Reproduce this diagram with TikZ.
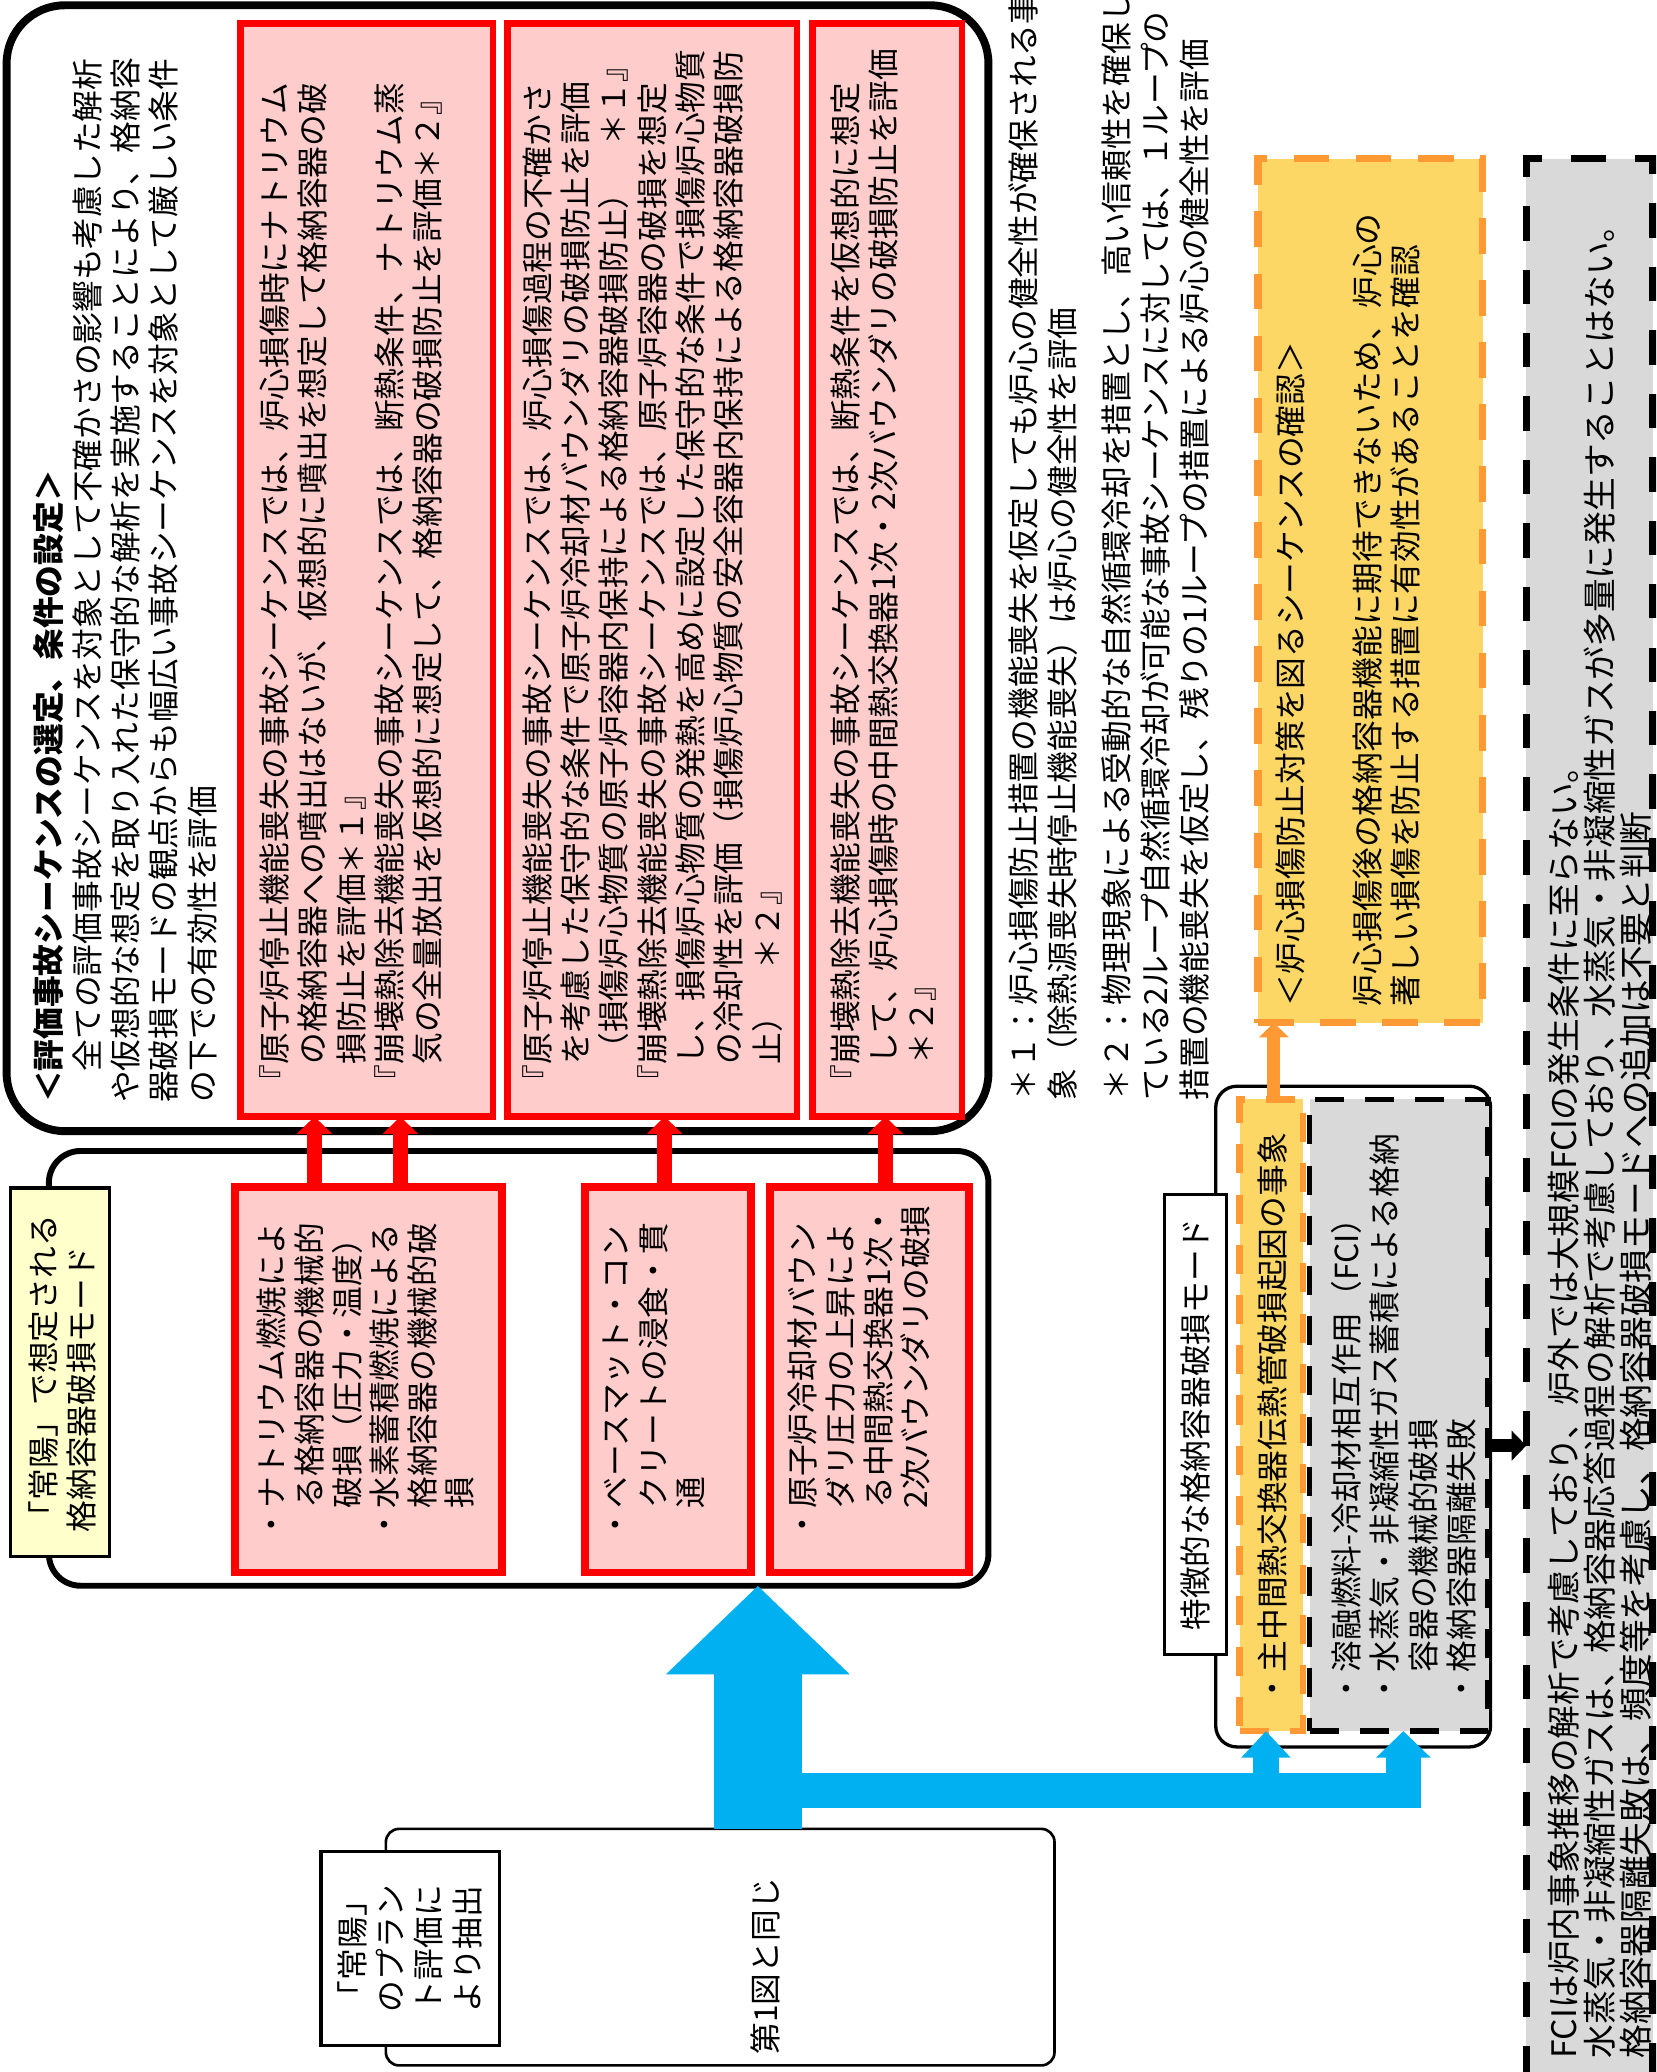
\documentclass[tikz,border=0pt]{standalone}
\usepackage{fontspec}
\setmainfont{Noto Sans CJK JP}
\usetikzlibrary{fit,arrows.meta}
\definecolor{pinkfill}{HTML}{FFCCCC}
\definecolor{goldfill}{HTML}{FCD766}
\definecolor{dashorange}{HTML}{FF9933}
\definecolor{greyfill}{HTML}{D9D9D9}
\definecolor{lightyellow}{HTML}{FFFFCC}
\definecolor{skyblue}{HTML}{00B0F0}
\newcommand\fsA{\fontsize{12pt}{14.5pt}\selectfont}
\newcommand\fsF{\fontsize{12pt}{14.75pt}\selectfont}
\newcommand\fsL{\fontsize{12pt}{14.25pt}\selectfont}
\newcommand\fsG{\fontsize{12.75pt}{13.6pt}\selectfont}
\begin{document}
\begin{tikzpicture}[x=0.5pt,y=-0.5pt,
  fitbox/.style={inner sep=0pt, outer sep=0pt},
  evalbox/.style={fitbox, draw, line width=3pt, rounded corners=22pt},
  redboxA/.style={fitbox, draw=red, fill=pinkfill, line width=2.5pt},
  redboxB/.style={fitbox, draw=red, fill=pinkfill, line width=3pt},
  lowerbox/.style={fitbox, draw, line width=2.25pt, rounded corners=12pt},
  midbox/.style={fitbox, draw, line width=1.25pt, rounded corners=8pt},
  orangebox/.style={fitbox, draw=dashorange, fill=goldfill, line width=2.75pt, dash pattern=on 13.5pt off 10pt},
  orangeboxS/.style={fitbox, draw=dashorange, fill=goldfill, line width=2.5pt, dash pattern=on 11pt off 8pt},
  greybox/.style={fitbox, draw, fill=greyfill, line width=2.75pt, dash pattern=on 13pt off 11pt},
  greyboxS/.style={fitbox, draw, fill=greyfill, line width=2pt, dash pattern=on 11pt off 8pt},
  labelbox/.style={fitbox, draw, fill=white, line width=1.25pt},
  ylabelbox/.style={fitbox, draw, fill=lightyellow, line width=1.25pt},
  plainbox/.style={fitbox, draw, line width=1pt, rounded corners=5pt},
  vtext/.style={rotate=90, anchor=north west, align=left, inner sep=0pt, font=\fsA},
  redarrow/.style={draw=red, line width=5.5pt, -{Triangle[length=6.5pt,width=13pt]}},
  orangearrow/.style={draw=dashorange, line width=5pt, -{Triangle[length=5.5pt,width=11pt]}},
  blackarrow/.style={draw=black, line width=5pt, -{Triangle[length=5.5pt,width=11pt]}},
  bluemain/.style={draw=skyblue, line width=33.5pt, -{Triangle[length=33.5pt,width=67.5pt]}},
  bluebranch/.style={draw=skyblue, line width=13pt, -{Triangle[length=10pt,width=20pt]}},
  bluesmall/.style={draw=skyblue, line width=10pt, -{Triangle[length=10pt,width=18pt]}}
]
\useasboundingbox (0,0) rectangle (1253.2,1568);
\clip (0,0) rectangle (1253.2,1568);

% evaluation box
\node[evalbox, fit={(5,4) (748,856)}] (eval) {};
\node[vtext] (evalT) at (25,835) {{\bfseries ＜評価事故シーケンスの選定、条件の設定＞}\\
　全ての評価事故シーケンスを対象として不確かさの影響も考慮した解析\\
や仮想的な想定を取り入れた保守的な解析を実施することにより、格納容\\
器破損モードの観点からも幅広い事故シーケンスを対象として厳しい条件\\
の下での有効性を評価};

\node[redboxA, fit={(182,18) (373,845)}] (R1) {};
\node[vtext] (R1T) at (196,830) {『原子炉停止機能喪失の事故シーケンスでは、炉心損傷時にナトリウム\\
　の格納容器への噴出はないが、仮想的に噴出を想定して格納容器の破\\
　損防止を評価＊１』\\
『崩壊熱除去機能喪失の事故シーケンスでは、断熱条件、ナトリウム蒸\\
　気の全量放出を仮想的に想定して、格納容器の破損防止を評価＊２』};

\node[redboxA, fit={(384,18) (603,845)}] (R2) {};
\node[vtext] (R2T) at (395,830) {『原子炉停止機能喪失の事故シーケンスでは、炉心損傷過程の不確かさ\\
　を考慮した保守的な条件で原子炉冷却材バウンダリの破損防止を評価\\
　（損傷炉心物質の原子炉容器内保持による格納容器破損防止）　＊１』\\
『崩壊熱除去機能喪失の事故シーケンスでは、原子炉容器の破損を想定\\
　し、損傷炉心物質の発熱を高めに設定した保守的な条件で損傷炉心物質\\
　の冷却性を評価（損傷炉心物質の安全容器内保持による格納容器破損防\\
　止）　＊２』};

\node[redboxA, fit={(615,18) (728,845)}] (R3) {};
\node[vtext] (R3T) at (628,830) {『崩壊熱除去機能喪失の事故シーケンスでは、断熱条件を仮想的に想定\\
　して、炉心損傷時の中間熱交換器1次・2次バウンダリの破損防止を評価\\
　＊２』};

% lower container
\node[lowerbox, fit={(37,871) (748,1200)}] (lower) {};
\node[ylabelbox, fit={(8,899) (83,1178)}] (ylab) {};
\node[vtext] (ylabT) at (21,1160) {「常陽」で想定される\\格納容器破損モード};

\node[redboxB, fit={(178,898) (380,1190)}] (L1) {};
\node[vtext, font=\fsL] (L1T) at (194,1166) {・ナトリウム燃焼によ\\
　る格納容器の機械的\\
　破損（圧力・温度）\\
・水素蓄積燃焼による\\
　格納容器の機械的破\\
　損};
\node[redboxB, fit={(443,898) (568,1190)}] (L2) {};
\node[vtext, font=\fsL] (L2T) at (456,1166) {・ベースマット・コン\\
　クリートの浸食・貫\\
　通};
\node[redboxB, fit={(583,898) (733,1190)}] (L3) {};
\node[vtext, font=\fsL] (L3T) at (596,1166) {・原子炉冷却材バウン\\
　ダリ圧力の上昇によ\\
　る中間熱交換器1次・\\
　2次バウンダリの破損};

\coordinate (ra1) at (238,0);
\coordinate (ra2) at (303,0);
\coordinate (ra3) at (503,0);
\coordinate (ra4) at (670,0);
\draw[redarrow] (ra1 |- L1.north) -- (ra1 |- R1.south);
\draw[redarrow] (ra2 |- L1.north) -- (ra2 |- R1.south);
\draw[redarrow] (ra3 |- L2.north) -- (ra3 |- R2.south);
\draw[redarrow] (ra4 |- L3.north) -- (ra4 |- R3.south);

% footnotes
\node[vtext, font=\fsF] (notes) at (763,833) {＊１：炉心損傷防止措置の機能喪失を仮定しても炉心の健全性が確保される事\\
象（除熱源喪失時停止機能喪失）は炉心の健全性を評価\\[5.5pt]
＊２：物理現象による受動的な自然循環冷却を措置とし、高い信頼性を確保し\\
ている2ループ自然循環冷却が可能な事故シーケンスに対しては、１ループの\\
措置の機能喪失を仮定し、残りの1ループの措置による炉心の健全性を評価};

% orange box
\node[orangebox, fit={(952,120) (1122,774)}] (obox) {};
\node[vtext] (oboxT) at (965,762) {＜炉心損傷防止対策を図るシーケンスの確認＞\\[14.5pt]
炉心損傷後の格納容器機能に期待できないため、炉心の\\
著しい損傷を防止する措置に有効性があることを確認};

% middle container
\node[midbox, fit={(920,822) (1128,1322)}] (mid) {};
\node[labelbox, fit={(881,904) (928,1252)}] (midlab) {};
\node[rotate=90, font=\fsA, inner sep=0pt] (midlabT) at (midlab.center) {特徴的な格納容器破損モード};
\node[orangeboxS, fit={(938,832) (986,1310)}] (oin) {};
\node[vtext] (oinT) at (951,1290) {・主中間熱交換器伝熱管破損起因の事象};
\node[greyboxS, fit={(991,832) (1126,1310)}] (gin) {};
\node[vtext] (ginT) at (1007,1290) {・溶融燃料-冷却材相互作用（FCI）\\
・水蒸気・非凝縮性ガス蓄積による格納\\
　容器の機械的破損\\
・格納容器隔離失敗};

\coordinate (oa) at (964,0);
\draw[orangearrow] (oa |- oin.north) -- (oa |- obox.south);

% big grey box
\node[greybox, fit={(1155,120) (1251,1620)}] (gbig) {};
\node[vtext, font=\fsG] (gbigT) at (1171,1558) {FCIは炉内事象推移の解析で考慮しており、炉外では大規模FCIの発生条件に至らない。\\
水蒸気・非凝縮性ガスは、格納容器応答過程の解析で考慮しており、水蒸気・非凝縮性ガスが多量に発生することはない。\\
格納容器隔離失敗は、頻度等を考慮し、格納容器破損モードへの追加は不要と判断};

\coordinate (ba) at (0,1094);
\draw[blackarrow] (mid.east |- ba) -- (gbig.west |- ba);

% bottom box
\node[plainbox, fit={(292,1384) (798,1563)}] (base) {};
\node[labelbox, fit={(243,1401) (378,1548)}] (baselab) {};
\node[vtext] (baselabT) at (255,1523) {「常陽」\\のプラン\\ト評価に\\より抽出};
\node[vtext] (baseT) at (568,1555) {第1図と同じ};

% blue connectors
\coordinate (bx) at (573.5,0);
\coordinate (hy) at (0,1355);
\coordinate (gx) at (1062,0);
\coordinate (ox) at (958,0);
\draw[bluemain] (base.north -| bx) -- (lower.south -| bx);
\draw[bluebranch] (bx |- hy) -| (gx |- gin.south);
\draw[bluesmall] (ox |- hy) -- (ox |- oin.south);
\end{tikzpicture}
\end{document}
